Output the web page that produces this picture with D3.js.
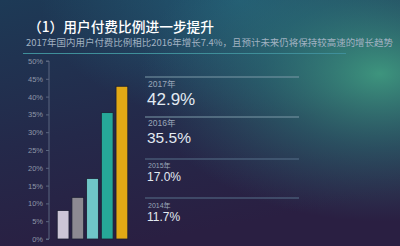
<!DOCTYPE html>
<html>
<head>
<meta charset="utf-8">
<script src="https://cdn.jsdelivr.net/npm/d3@7"></script>
<style>
  html, body { margin: 0; padding: 0; background: #1f2a48; }
  svg { display: block; }
</style>
</head>
<body>
<div class="chart"></div>
<script>
// données
const years = ["2013年", "2014年", "2015年", "2016年", "2017年"];
const ratios = [8.0, 11.7, 17.0, 35.5, 42.9];
const barColors = ["#cbc5d6", "#8d8a92", "#6fc6c8", "#26a898", "#e2a915"];
const yTicks = [0, 5, 10, 15, 20, 25, 30, 35, 40, 45, 50];
const title = "（1）用户付费比例进一步提升";
const subtitle = "2017年国内用户付费比例相比2016年增长7.4%，且预计未来仍将保持较高速的增长趋势";

// Bloc de droite : du plus récent au plus ancien
const legendYears = ["2017年", "2016年", "2015年", "2014年"];
const legendValues = [42.9, 35.5, 17.0, 11.7];

const width = 400, height = 246;

const svg = d3.select(".chart").append("svg")
  .attr("width", width)
  .attr("height", height);

const defs = svg.append("defs");

// fond : dégradé sombre bleu / violet avec halo vert à droite
const bg = defs.append("linearGradient").attr("id", "bg")
  .attr("x1", 0).attr("y1", 0).attr("x2", 0.3).attr("y2", 1);
bg.append("stop").attr("offset", "0%").attr("stop-color", "#1d3a56");
bg.append("stop").attr("offset", "55%").attr("stop-color", "#24294a");
bg.append("stop").attr("offset", "100%").attr("stop-color", "#2a1f42");

const glow = defs.append("radialGradient").attr("id", "glow")
  .attr("cx", 0.95).attr("cy", 0.3).attr("r", 0.6);
glow.append("stop").attr("offset", "0%").attr("stop-color", "#3f9a80").attr("stop-opacity", 0.95);
glow.append("stop").attr("offset", "50%").attr("stop-color", "#2e7a7a").attr("stop-opacity", 0.5);
glow.append("stop").attr("offset", "100%").attr("stop-color", "#2e6a78").attr("stop-opacity", 0);

const glowTop = defs.append("radialGradient").attr("id", "glowTop")
  .attr("cx", 0.6).attr("cy", 0).attr("r", 0.5);
glowTop.append("stop").attr("offset", "0%").attr("stop-color", "#236a80").attr("stop-opacity", 0.7);
glowTop.append("stop").attr("offset", "100%").attr("stop-color", "#236a80").attr("stop-opacity", 0);

svg.append("rect").attr("width", width).attr("height", height).attr("fill", "url(#bg)");
svg.append("rect").attr("width", width).attr("height", height).attr("fill", "url(#glowTop)");
svg.append("rect").attr("width", width).attr("height", height).attr("fill", "url(#glow)");

// titres
svg.append("text")
  .attr("x", 28).attr("y", 32)
  .attr("fill", "#ffffff")
  .style("font-family", "'Noto Sans CJK SC', sans-serif")
  .style("font-size", "14px")
  .style("font-weight", "500")
  .attr("textLength", 186)
  .attr("lengthAdjust", "spacingAndGlyphs")
  .text(title);

svg.append("text")
  .attr("x", 26).attr("y", 46)
  .attr("fill", "#a2b2c2")
  .style("font-family", "'Noto Sans CJK SC', sans-serif")
  .style("font-size", "9.4px")
  .attr("textLength", 367)
  .attr("lengthAdjust", "spacingAndGlyphs")
  .text(subtitle);

svg.append("line")
  .attr("x1", 23).attr("x2", 346).attr("y1", 53.5).attr("y2", 53.5)
  .attr("stroke", "#3f8f9a").attr("stroke-width", 1);

// échelles
const x = d3.scaleBand()
  .domain(years)
  .range([55, 130])
  .paddingInner(0.2)
  .paddingOuter(0.15);

const y = d3.scaleLinear().domain([0, 50]).range([239, 61]);

// axe gauche
const yAxis = d3.axisLeft(y)
  .tickValues(yTicks)
  .tickFormat(d => d + "%")
  .tickSize(3);

const gy = svg.append("g")
  .attr("transform", "translate(49,0)")
  .call(yAxis);
gy.select(".domain").attr("stroke", "#5a6680").attr("d", "M-3,61H0V239H-3");
gy.selectAll(".tick line").attr("stroke", "#5a6680");
gy.selectAll("text")
  .attr("fill", "#8f97a8")
  .attr("x", -6)
  .style("font-family", "'Liberation Sans', Arial, sans-serif")
  .style("font-size", "7.5px");

// barres
svg.selectAll(".bar")
  .data(ratios)
  .join("rect")
  .attr("class", "bar")
  .attr("x", (d, i) => x(years[i]))
  .attr("y", d => y(d))
  .attr("width", x.bandwidth())
  .attr("height", d => y(0) - y(d))
  .attr("fill", (d, i) => barColors[i])
  .attr("stroke", "#1c1f33")
  .attr("stroke-width", 0.8);

// bloc des valeurs à droite
const blockTop = [77, 117, 159, 198];
const yearSize = [8.5, 8.5, 7, 7];
const yearOffset = [10, 9, 9, 9.5];
const valSize = [17, 15.5, 12, 12];
const valOffset = [28, 26, 22, 23];

const items = svg.selectAll(".item")
  .data(legendValues)
  .join("g")
  .attr("class", "item")
  .attr("transform", (d, i) => `translate(145,${blockTop[i]})`);

items.append("line")
  .attr("x1", 0).attr("x2", 154)
  .attr("y1", 0).attr("y2", 0)
  .attr("stroke", (d, i) => i < 2 ? "#7c9aa8" : "#56708a")
  .attr("stroke-width", 1);

items.append("text")
  .attr("x", 3).attr("y", (d, i) => yearOffset[i])
  .attr("fill", "#9aa6b8")
  .style("font-family", "'Liberation Sans', 'Noto Sans CJK SC', sans-serif")
  .style("font-size", (d, i) => yearSize[i] + "px")
  .text((d, i) => legendYears[i]);

items.append("text")
  .attr("x", 2).attr("y", (d, i) => valOffset[i])
  .attr("fill", "#e2eaf2")
  .style("font-family", "'Liberation Sans', Arial, sans-serif")
  .style("font-size", (d, i) => valSize[i] + "px")
  .text(d => d.toFixed(1) + "%");
</script>
</body>
</html>
